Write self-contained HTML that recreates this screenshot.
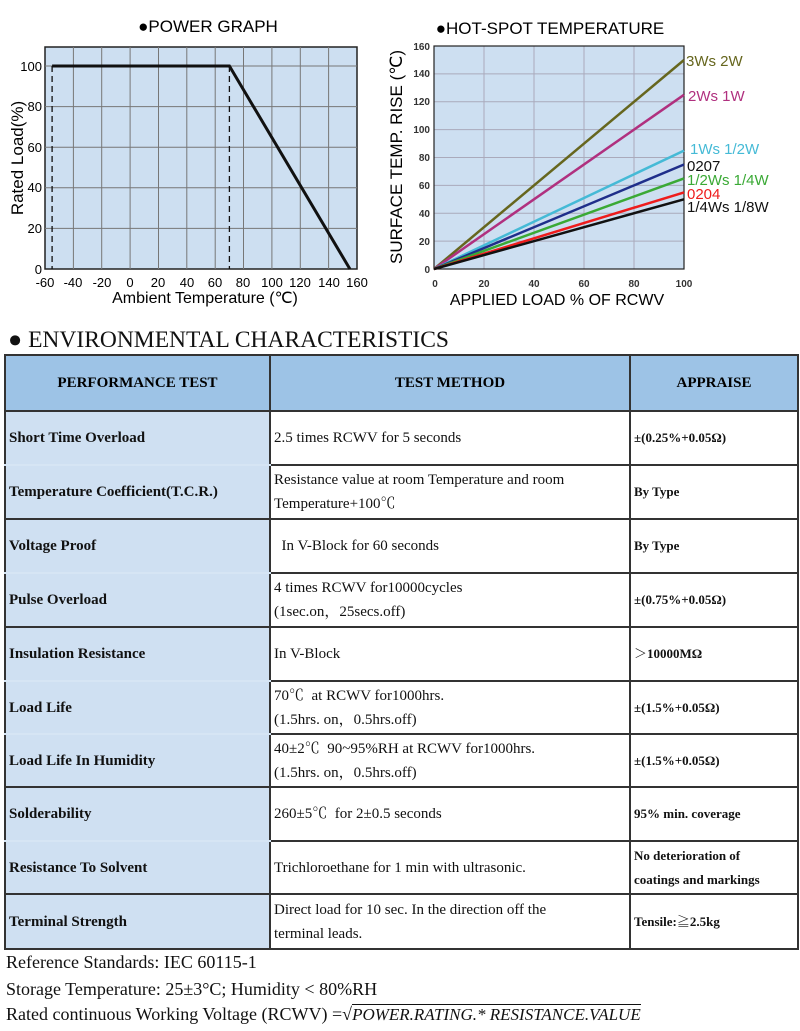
<!DOCTYPE html>
<html><head><meta charset="utf-8"><style>
body{margin:0;width:800px;height:1031px;background:#fff;position:relative;overflow:hidden;font-family:"Liberation Serif","Noto Serif CJK SC",serif;}
svg{position:absolute;left:0;top:0}
.sec{position:absolute;left:8px;top:327px;font-size:23.5px;color:#111;}
table{position:absolute;left:4px;top:354px;border-collapse:collapse;width:795px;font-size:15px;}
td{border:2px solid #333;padding:0 3px;height:50px;color:#111;line-height:24px;}
td.c1{background:#cfe0f2;font-weight:bold;width:257px;}
td.c3{font-weight:bold;font-size:13px;width:160px;}
th{background:#9dc3e6;border:2px solid #333;height:52px;font-size:15px;}
tr.nbb td.c1{border-bottom:2px solid #d6e5f4;}
.ft{position:absolute;left:6px;font-size:18px;color:#111;}
</style></head><body>
<svg width="800" height="320" font-family="Liberation Sans, sans-serif">
<text x="208" y="32" font-size="17" text-anchor="middle">●POWER GRAPH</text>
<rect x="45" y="47" width="312" height="222" fill="#cddff1" stroke="#222" stroke-width="1.5"/>
<g stroke="#777" stroke-width="1">
<line x1="73.4" y1="47" x2="73.4" y2="269"/><line x1="101.7" y1="47" x2="101.7" y2="269"/><line x1="130.1" y1="47" x2="130.1" y2="269"/><line x1="158.5" y1="47" x2="158.5" y2="269"/><line x1="186.8" y1="47" x2="186.8" y2="269"/><line x1="215.2" y1="47" x2="215.2" y2="269"/><line x1="243.5" y1="47" x2="243.5" y2="269"/><line x1="271.9" y1="47" x2="271.9" y2="269"/><line x1="300.3" y1="47" x2="300.3" y2="269"/><line x1="328.6" y1="47" x2="328.6" y2="269"/>
<line x1="45" y1="66" x2="357" y2="66"/><line x1="45" y1="106.6" x2="357" y2="106.6"/><line x1="45" y1="147.2" x2="357" y2="147.2"/><line x1="45" y1="187.8" x2="357" y2="187.8"/><line x1="45" y1="228.4" x2="357" y2="228.4"/>
</g>
<g stroke="#111" stroke-width="1.3" stroke-dasharray="6,4"><line x1="52.1" y1="66" x2="52.1" y2="269"/><line x1="229.4" y1="66" x2="229.4" y2="269"/></g>
<polyline points="52.1,66 229.4,66 349.9,269" fill="none" stroke="#111" stroke-width="3"/>
<g font-size="13" text-anchor="end"><text x="42" y="71">100</text><text x="42" y="111">80</text><text x="42" y="152">60</text><text x="42" y="192">40</text><text x="42" y="233">20</text><text x="42" y="274">0</text></g>
<g font-size="13" text-anchor="middle"><text x="45" y="287">-60</text><text x="73" y="287">-40</text><text x="102" y="287">-20</text><text x="130" y="287">0</text><text x="158" y="287">20</text><text x="187" y="287">40</text><text x="215" y="287">60</text><text x="243" y="287">80</text><text x="272" y="287">100</text><text x="300" y="287">120</text><text x="329" y="287">140</text><text x="357" y="287">160</text></g>
<text x="205" y="303" font-size="16" text-anchor="middle">Ambient Temperature (℃)</text>
<text transform="translate(23,158) rotate(-90)" font-size="17" text-anchor="middle">Rated Load(%)</text>
<text x="550" y="34" font-size="17" text-anchor="middle">●HOT-SPOT TEMPERATURE</text>
<rect x="434" y="46" width="250" height="223" fill="#cddff1"/>
<g stroke="#aab" stroke-width="1">
<line x1="484" y1="46" x2="484" y2="269"/><line x1="534" y1="46" x2="534" y2="269"/><line x1="584" y1="46" x2="584" y2="269"/><line x1="634" y1="46" x2="634" y2="269"/>
<line x1="434" y1="241.1" x2="684" y2="241.1"/><line x1="434" y1="213.2" x2="684" y2="213.2"/><line x1="434" y1="185.4" x2="684" y2="185.4"/><line x1="434" y1="157.5" x2="684" y2="157.5"/><line x1="434" y1="129.6" x2="684" y2="129.6"/><line x1="434" y1="101.8" x2="684" y2="101.8"/><line x1="434" y1="73.9" x2="684" y2="73.9"/>
</g>
<rect x="434" y="46" width="250" height="223" fill="none" stroke="#222" stroke-width="1.2"/>
<g stroke-width="2.5" fill="none">
<line x1="434" y1="269" x2="684" y2="60" stroke="#66661e"/>
<line x1="434" y1="269" x2="684" y2="94.8" stroke="#b0307f"/>
<line x1="434" y1="269" x2="684" y2="150.6" stroke="#45bad6"/>
<line x1="434" y1="269" x2="684" y2="164.5" stroke="#1f2e8a"/>
<line x1="434" y1="269" x2="684" y2="178.4" stroke="#3aa935"/>
<line x1="434" y1="269" x2="684" y2="192.4" stroke="#ee1c1c"/>
<line x1="434" y1="269" x2="684" y2="199.3" stroke="#111"/>
</g>
<g font-size="10" font-weight="bold" fill="#333" text-anchor="end"><text x="430" y="50">160</text><text x="430" y="77">140</text><text x="430" y="105">120</text><text x="430" y="133">100</text><text x="430" y="161">80</text><text x="430" y="189">60</text><text x="430" y="217">40</text><text x="430" y="245">20</text><text x="430" y="273">0</text></g>
<g font-size="10" font-weight="bold" fill="#333" text-anchor="middle"><text x="435" y="287">0</text><text x="484" y="287">20</text><text x="534" y="287">40</text><text x="584" y="287">60</text><text x="634" y="287">80</text><text x="684" y="287">100</text></g>
<text x="557" y="305" font-size="16" text-anchor="middle">APPLIED LOAD % OF RCWV</text>
<text transform="translate(402,157) rotate(-90)" font-size="17" text-anchor="middle">SURFACE TEMP. RISE (℃)</text>
<g font-size="15"><text x="686" y="66" fill="#66661e">3Ws 2W</text><text x="688" y="101" fill="#b0307f">2Ws 1W</text><text x="690" y="154" fill="#45bad6">1Ws 1/2W</text><text x="687" y="171" fill="#111">0207</text><text x="687" y="185" fill="#3aa935">1/2Ws 1/4W</text><text x="687" y="199" fill="#ee1c1c">0204</text><text x="687" y="212" fill="#111">1/4Ws 1/8W</text></g>
</svg>
<div class="sec">● ENVIRONMENTAL CHARACTERISTICS</div>
<table>
<tr><th>PERFORMANCE TEST</th><th>TEST METHOD</th><th>APPRAISE</th></tr>
<tr class="nbb" style="height:54px"><td class="c1">Short Time Overload</td><td>2.5 times RCWV for 5 seconds</td><td class="c3">±(0.25%+0.05Ω)</td></tr>
<tr style="height:54px"><td class="c1">Temperature Coefficient(T.C.R.)</td><td>Resistance value at room Temperature and room<br>Temperature+100℃</td><td class="c3">By Type</td></tr>
<tr class="nbb" style="height:54px"><td class="c1">Voltage Proof</td><td>&nbsp;&nbsp;In V-Block for 60 seconds</td><td class="c3">By Type</td></tr>
<tr style="height:54px"><td class="c1">Pulse Overload</td><td>4 times RCWV for10000cycles<br>(1sec.on，25secs.off)</td><td class="c3">±(0.75%+0.05Ω)</td></tr>
<tr class="nbb" style="height:54px"><td class="c1">Insulation Resistance</td><td>In V-Block</td><td class="c3">＞10000MΩ</td></tr>
<tr class="nbb" style="height:53px"><td class="c1">Load Life</td><td>70℃ &nbsp;at RCWV for1000hrs.<br>(1.5hrs. on，0.5hrs.off)</td><td class="c3">±(1.5%+0.05Ω)</td></tr>
<tr style="height:53px"><td class="c1">Load Life In Humidity</td><td>40±2℃ &nbsp;90~95%RH at RCWV for1000hrs.<br>(1.5hrs. on，0.5hrs.off)</td><td class="c3">±(1.5%+0.05Ω)</td></tr>
<tr class="nbb" style="height:54px"><td class="c1">Solderability</td><td>260±5℃ &nbsp;for 2±0.5 seconds</td><td class="c3">95% min. coverage</td></tr>
<tr style="height:53px"><td class="c1">Resistance To Solvent</td><td>Trichloroethane for 1 min with ultrasonic.</td><td class="c3">No deterioration of<br>coatings and markings</td></tr>
<tr style="height:55px"><td class="c1">Terminal Strength</td><td>Direct load for 10 sec. In the direction off the<br>terminal leads.</td><td class="c3">Tensile:≧2.5kg</td></tr>
</table>
<div class="ft" style="top:952px">Reference Standards: IEC 60115-1</div>
<div class="ft" style="top:979px">Storage Temperature: 25±3°C; Humidity &lt; 80%RH</div>
<div class="ft" style="top:1004px">Rated continuous Working Voltage (RCWV) =√<span style="border-top:1px solid #111;font-style:italic;font-size:17px">POWER.RATING.* RESISTANCE.VALUE</span></div>
</body></html>
